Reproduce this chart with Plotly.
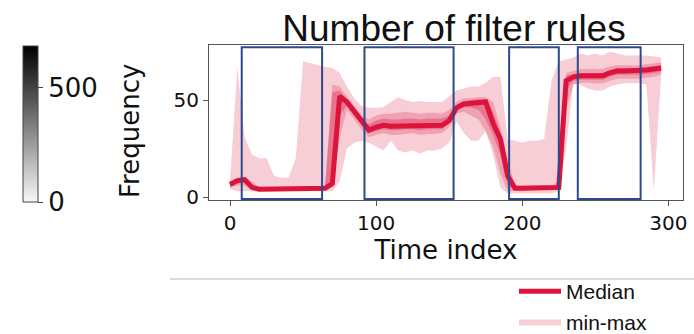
import plotly.graph_objects as go

W, H = 694, 334

# ---------------- data ----------------
time_idx = [0, 5, 10, 15, 20, 25, 30, 35, 40, 45, 50, 55, 60, 65, 70, 75, 80, 85, 90, 95,
            100, 105, 110, 115, 120, 125, 130, 135, 140, 145, 150, 155, 160, 165, 170, 175, 180, 185, 190, 195,
            200, 205, 210, 215, 220, 225, 230, 235, 240, 245, 250, 255, 260, 265, 270, 275, 280, 285, 290, 295]

median = [6.5, 8.5, 9, 5, 4, 4, 4, 4, 4, 4, 4, 4, 4, 4.5, 7, 52, 49, 44, 38.5, 34.5,
          36, 37, 36.5, 36.5, 37, 37, 36.5, 37, 37, 37, 39.5, 46, 48, 48.5, 49, 49, 38, 30, 11, 4.5,
          4.5, 4.5, 4.5, 4.5, 4.5, 5, 60, 62, 62.5, 62.5, 62.5, 62.5, 64, 65, 65, 65, 65, 65.5, 66, 66.5]

val_min = [4, 3, 3, 3, 3, 3, 3, 3, 3, 3, 3, 3, 3, 3, 3, 8, 25, 28, 29, 28,
           26, 24, 29, 24, 23, 24, 22.5, 24, 24, 25, 28, 39, 33, 29, 29, 34, 22, 5, 2, 2,
           2, 2, 2, 2, 2, 3, 25, 60, 57.7, 56, 55, 55, 57, 58, 58.7, 58.7, 58.7, 58, 3, 62]

val_max = [8, 67, 31, 22, 20, 20, 11, 10, 10, 20, 70, 69, 68, 67, 66.5, 64, 57, 51, 47, 46,
           46, 46.5, 49, 51.5, 50, 49, 49.5, 49, 49, 49, 52, 55, 56, 57, 57, 59, 62, 62, 30, 29,
           28, 29, 29, 30, 60, 70, 71, 72, 74, 73, 74, 73, 75, 74, 73, 73, 73, 73, 72.5, 72]

p10 = [5, 6, 6, 3.5, 3.5, 3.5, 3.5, 3.5, 3.5, 3.5, 3.5, 3.5, 3.5, 3.5, 5, 30, 45, 40, 35, 31,
       32, 33, 32, 32, 32.5, 33, 32, 32.5, 32.5, 33, 36, 43, 44, 42, 40, 34, 26, 12, 3, 3.5,
       3.5, 3.5, 3.5, 3.5, 3.5, 4, 45, 58, 59, 59, 58.5, 58.5, 60, 61, 61, 61, 61, 61.5, 62, 63]

p90 = [8, 10, 10.5, 8, 5, 5, 5, 5, 5, 5, 5, 5, 5, 6, 58, 57, 52, 47, 42, 40,
       42, 43, 43, 43.5, 44, 43.5, 43, 43.5, 43.5, 43, 45, 49, 51, 51, 51.5, 51.5, 49, 36, 20, 6,
       6, 6, 6, 6, 6, 8, 64, 65, 66, 66, 66, 66, 67.5, 68, 68, 68, 68, 68.5, 69, 69.5]

p25 = [5.5, 7, 7.5, 4, 3.8, 3.8, 3.8, 3.8, 3.8, 3.8, 3.8, 3.8, 3.8, 4, 6, 42, 47, 42, 37, 33,
       34, 35, 34.5, 34.5, 35, 35, 34.5, 35, 35, 35, 38, 45, 46.5, 46, 45, 40, 32, 22, 6, 4,
       4, 4, 4, 4, 4, 4.5, 55, 60, 60.5, 60.5, 60.5, 60.5, 62, 63, 63, 63, 63, 63.5, 64, 64.5]

p75 = [7.5, 9.5, 10, 6, 4.5, 4.5, 4.5, 4.5, 4.5, 4.5, 4.5, 4.5, 4.5, 5, 54, 55, 50.5, 45.5, 40, 37.5,
       39.5, 40.5, 40, 40, 40.5, 40.5, 40, 40.5, 40.5, 40.5, 42, 47.5, 49.5, 50, 50.5, 50.5, 44, 33, 15, 5,
       5, 5, 5, 5, 5, 6, 62.5, 63.5, 64, 64, 64, 64, 65.5, 66.5, 66.5, 66.5, 66.5, 67, 67.5, 68]

# highlighted windows (time index start / end)
win_start = [8, 92, 191, 238]
win_end = [63, 153, 225, 281]
win_low, win_high = -1, 77.3

xticks = [0, 100, 200, 300]
yticks = [0, 50]
cbar_ticks = [0, 500]
cbar_max = 684

# ---------------- styles ----------------
RED = "#dc143c"
C_MINMAX = "#f7cdd6"
C_BAND1 = "#f0a2b3"
C_BAND2 = "#e87590"
BOX = "#2d4a8c"
AXC = "#555555"

fig = go.Figure()

def band(lo, hi, color, name=None, show=False, rank=None):
    fig.add_trace(go.Scatter(x=time_idx, y=lo, mode="lines", line=dict(width=0, color=color),
                             showlegend=False, hoverinfo="skip"))
    fig.add_trace(go.Scatter(x=time_idx, y=hi, mode="lines", line=dict(width=0, color=color),
                             fill="tonexty", fillcolor=color, name=name, showlegend=show,
                             legendrank=rank if rank else 1000, hoverinfo="skip"))

band(val_min, val_max, C_MINMAX, "min-max", True, 2)
band(p10, p90, C_BAND1)
band(p25, p75, C_BAND2)

fig.add_trace(go.Scatter(x=time_idx, y=median, mode="lines", name="Median",
                         line=dict(color=RED, width=5), legendrank=1))

# colour bar (frequency)
fig.add_trace(go.Scatter(x=[None], y=[None], mode="markers", showlegend=False,
                         marker=dict(color=[0], cmin=0, cmax=cbar_max,
                                     colorscale=[[0, "#f8f8f8"], [1, "#000000"]],
                                     showscale=True,
                                     colorbar=dict(thickness=15, thicknessmode="pixels",
                                                   len=156, lenmode="pixels",
                                                   x=23 / W, xanchor="left", xpad=0,
                                                   y=1 - 124 / H, yanchor="middle", ypad=0,
                                                   outlinewidth=1, outlinecolor="#444",
                                                   tickvals=cbar_ticks, ticks="outside", ticklen=5,
                                                   tickcolor="#444",
                                                   tickfont=dict(family="DejaVu Sans", size=26, color="#111")))))

for s, e in zip(win_start, win_end):
    fig.add_shape(type="rect", xref="x", yref="y", x0=s, x1=e, y0=win_low, y1=win_high,
                  line=dict(color=BOX, width=2), fillcolor="rgba(0,0,0,0)", layer="above")

# legend separator line
fig.add_shape(type="line", xref="paper", yref="paper", x0=170 / W, x1=1, y0=1 - 279 / H, y1=1 - 279 / H,
              line=dict(color="#bbbbbb", width=1))

fig.add_annotation(text="Frequency", xref="paper", yref="paper", x=130 / W, y=1 - 131 / H,
                   textangle=-90, showarrow=False, xanchor="center", yanchor="middle",
                   font=dict(family="DejaVu Sans", size=26, color="#111"))

fig.update_layout(
    width=W, height=H,
    margin=dict(l=0, r=0, t=0, b=0, autoexpand=False),
    paper_bgcolor="white", plot_bgcolor="white",
    title=dict(text="Number of filter rules", x=454 / W, y=1 - 28 / H, xanchor="center", yanchor="middle",
               font=dict(family="Liberation Sans", size=37, color="#111")),
    xaxis=dict(domain=[209 / W, 683 / W], range=[-14.4, 310], tickvals=xticks,
               showgrid=False, zeroline=False, showline=True, mirror=True, linecolor=AXC, linewidth=1,
               ticks="outside", ticklen=5, tickcolor=AXC,
               tickfont=dict(family="DejaVu Sans", size=20, color="#111"),
               title=dict(text="Time index", standoff=2,
                          font=dict(family="DejaVu Sans", size=26, color="#111"))),
    yaxis=dict(domain=[1 - 200 / H, 1 - 45 / H], range=[-1.5, 78.4], tickvals=yticks,
               showgrid=False, zeroline=False, showline=True, mirror=True, linecolor=AXC, linewidth=1,
               ticks="outside", ticklen=5, tickcolor=AXC,
               tickfont=dict(family="DejaVu Sans", size=20, color="#111")),
    legend=dict(x=514 / W, y=1 - 271 / H, xanchor="left", yanchor="top", itemwidth=42,
                font=dict(family="Liberation Sans", size=21, color="#111"),
                bgcolor="rgba(0,0,0,0)", traceorder="normal", tracegroupgap=0),
)

fig.write_html("out.html", config={"displayModeBar": False},
               post_script="document.body.style.margin='0';document.body.style.overflow='hidden';")
